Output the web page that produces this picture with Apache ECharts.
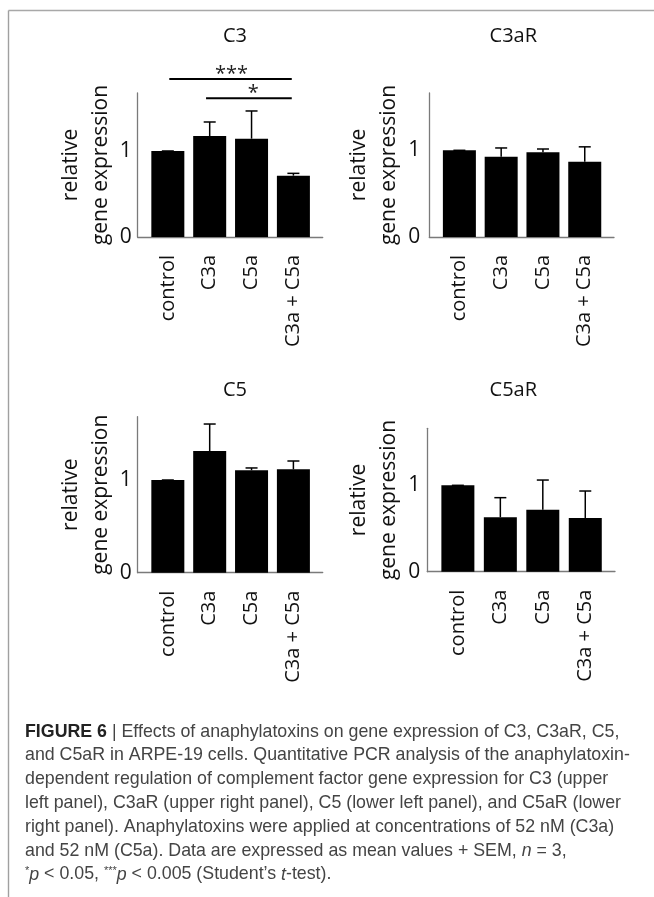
<!DOCTYPE html>
<html><head><meta charset="utf-8">
<script src="https://cdn.jsdelivr.net/npm/echarts@6/dist/echarts.min.js"></script>
<style>html,body{margin:0;padding:0;background:#fff}#c{width:654px;height:897px}</style>
</head><body><div id="c"></div>
<script>
// ---------- data ----------
const categories = ['control', 'C3a', 'C5a', 'C3a + C5a'];
const panelTitles = ['C3', 'C3aR', 'C5', 'C5aR'];
const c3Mean   = [1.00, 1.174, 1.143, 0.713];
const c3Sem    = [0.00, 0.163, 0.322, 0.027];
const c3aRMean = [1.00, 0.926, 0.977, 0.868];
const c3aRSem  = [0.00, 0.101, 0.038, 0.172];
const c5Mean   = [1.00, 1.313, 1.105, 1.115];
const c5Sem    = [0.00, 0.291, 0.025, 0.090];
const c5aRMean = [1.00, 0.630, 0.718, 0.622];
const c5aRSem  = [0.00, 0.227, 0.343, 0.312];
const yTickValues = [0, 1];
// significance brackets (C3 panel)
const sigFrom   = [0.035, 0.913];
const sigTo     = [2.961, 2.961];
const sigLevel  = [1.837, 1.613];
const sigLabels = ['***', '*'];
const sigLabelX = [1.52, 2.04];
const captionLines = [
  '{b|FIGURE 6} | Effects of anaphylatoxins on gene expression of C3, C3aR, C5,',
  'and C5aR in ARPE-19 cells. Quantitative PCR analysis of the anaphylatoxin-',
  'dependent regulation of complement factor gene expression for C3 (upper',
  'left panel), C3aR (upper right panel), C5 (lower left panel), and C5aR (lower',
  'right panel). Anaphylatoxins were applied at concentrations of 52 nM (C3a)',
  'and 52 nM (C5a). Data are expressed as mean values + SEM, {i|n} = 3,',
  '{s|*}{i|p} < 0.05, {s|***}{i|p} < 0.005 (Student\u2019s {i|t}-test).'
];

// ---------- layout ----------
const means = [c3Mean, c3aRMean, c5Mean, c5aRMean];
const sems = [c3Sem, c3aRSem, c5Sem, c5aRSem];
const panels = [
  {left: 137.7, top: 93,    width: 185,   height: 144,   yMax: 1.674, tx: 235,   ty: 36.5,  lm: 6},
  {left: 429.3, top: 93,    width: 184.7, height: 144,   yMax: 1.661, tx: 513.3, ty: 36.5,  lm: 9},
  {left: 137.7, top: 416.7, width: 185,   height: 156,   yMax: 1.683, tx: 235,   ty: 390.5, lm: 6},
  {left: 427.3, top: 428.3, width: 187.7, height: 143.4, yMax: 1.660, tx: 513.3, ty: 390.5, lm: 7}
];
const FONT = 'Open Sans';
const TXT = '#111';

const grid = [], xAxis = [], yAxis = [], series = [], graphic = [];
panels.forEach((p, i) => {
  grid.push({left: p.left, top: p.top, width: p.width, height: p.height, outerBoundsMode: 'none'});
  xAxis.push({
    type: 'value', gridIndex: i, min: -0.72, max: 3.7,
    axisLine: {show: true, onZero: false, lineStyle: {color: '#7a7a7a', width: 1.3}},
    axisTick: {show: false}, splitLine: {show: false},
    axisLabel: {customValues: [0, 1, 2, 3], formatter: v => categories[Math.round(v)],
      rotate: 90, margin: 18, fontSize: 20, color: TXT, fontFamily: FONT}
  });
  yAxis.push({
    type: 'value', gridIndex: i, min: 0, max: p.yMax,
    name: 'relative\ngene expression', nameLocation: 'middle', nameGap: 22, nameRotate: 90,
    nameTextStyle: {fontSize: 21, lineHeight: 30, color: TXT, fontFamily: FONT},
    axisLine: {show: true, onZero: false, lineStyle: {color: '#7a7a7a', width: 1.3}},
    axisTick: {show: false}, splitLine: {show: false},
    axisLabel: {customValues: yTickValues, margin: p.lm, fontSize: 21, color: TXT, fontFamily: FONT}
  });
  series.push({
    type: 'bar', xAxisIndex: i, yAxisIndex: i, barWidth: 33,
    itemStyle: {color: '#000'}, silent: true,
    data: means[i].map((v, j) => [j, v])
  });
  series.push({
    type: 'custom', xAxisIndex: i, yAxisIndex: i, clip: false, z: 5, silent: true,
    data: means[i].map((v, j) => [j, v, sems[i][j]]),
    renderItem: (params, api) => {
      const x = api.value(0), m = api.value(1), s = api.value(2);
      const a = api.coord([x, m]), b = api.coord([x, m + s]);
      const st = {stroke: '#000', lineWidth: 1.5};
      return {type: 'group', children: [
        {type: 'line', shape: {x1: a[0], y1: a[1], x2: b[0], y2: b[1]}, style: st},
        {type: 'line', shape: {x1: b[0] - 6, y1: b[1], x2: b[0] + 6, y2: b[1]}, style: st}
      ]};
    }
  });
  graphic.push({type: 'text', x: p.tx, y: p.ty,
    style: {text: panelTitles[i], textAlign: 'center', textVerticalAlign: 'middle',
      fontSize: 20, fontFamily: FONT, fill: TXT}});
});

series.push({
  type: 'custom', xAxisIndex: 0, yAxisIndex: 0, clip: false, z: 6, silent: true,
  data: sigFrom.map((f, k) => [f, sigTo[k], sigLevel[k], sigLabelX[k], k]),
  renderItem: (params, api) => {
    const a = api.coord([api.value(0), api.value(2)]);
    const b = api.coord([api.value(1), api.value(2)]);
    const c = api.coord([api.value(3), api.value(2)]);
    return {type: 'group', children: [
      {type: 'line', shape: {x1: a[0], y1: a[1], x2: b[0], y2: b[1]}, style: {stroke: '#000', lineWidth: 2}},
      {type: 'text', x: c[0], y: c[1] - 5,
        style: {text: sigLabels[api.value(4)], textAlign: 'center', textVerticalAlign: 'middle',
          fontSize: 20, fontFamily: FONT, fill: '#222'}}
    ]};
  }
});

// frame
graphic.push({type: 'line', shape: {x1: 8.5, y1: 10.5, x2: 654, y2: 10.5}, style: {stroke: '#a8a8a8', lineWidth: 1.6}});
graphic.push({type: 'line', shape: {x1: 8.5, y1: 10.5, x2: 8.5, y2: 897}, style: {stroke: '#a0a0a0', lineWidth: 1.4}});

// caption
captionLines.forEach((t, k) => {
  graphic.push({type: 'text', x: 25, y: 731.8 + k * 23.8,
    style: {text: t, textAlign: 'left', textVerticalAlign: 'middle',
      fontSize: 17.8, fontFamily: 'Liberation Sans', fill: '#444',
      rich: {
        b: {fontWeight: 'bold', fill: '#222', fontSize: 17.8, fontFamily: 'Liberation Sans'},
        i: {fontStyle: 'italic', fill: '#444', fontSize: 17.8, fontFamily: 'Liberation Sans'},
        s: {fill: '#444', fontSize: 11, fontFamily: 'Liberation Sans', verticalAlign: 'top'}
      }}});
});

const chart = echarts.init(document.getElementById('c'), null, {renderer: 'canvas'});
chart.setOption({animation: false, backgroundColor: '#fff', grid, xAxis, yAxis, series, graphic});
</script></body></html>
